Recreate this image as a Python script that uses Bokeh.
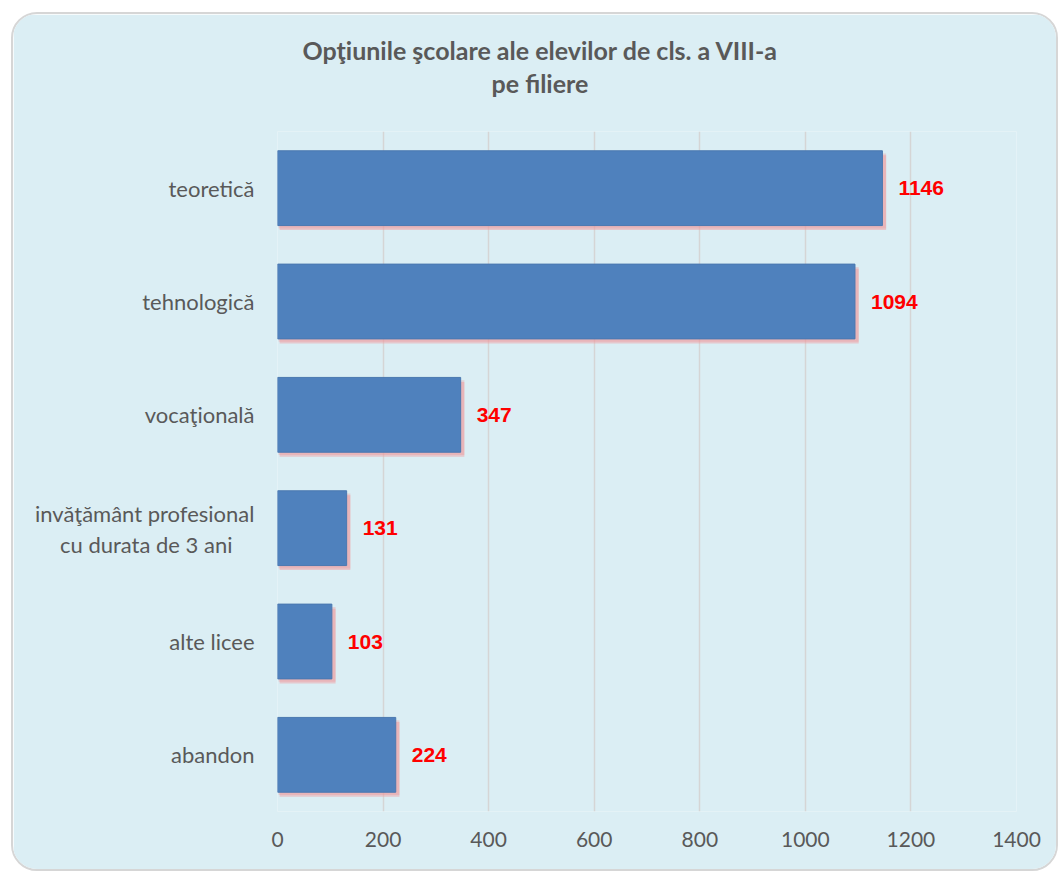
from bokeh.plotting import figure
from bokeh.models import Range1d, ColumnDataSource, FixedTicker, Title
from bokeh.core.properties import value
from bokeh.embed import file_html
from bokeh.resources import INLINE

categories = ["teoretică", "tehnologică", "vocaţională", "invăţământ profesional", "alte licee", "abandon"]
category_labels = ["teoretică", "tehnologică", "vocaţională", "invăţământ profesional\ncu durata de 3 ani", "alte licee", "abandon"]
values = [1146, 1094, 347, 131, 103, 224]
x_ticks = [0, 200, 400, 600, 800, 1000, 1200, 1400]
title_lines = ["Opţiunile şcolare ale elevilor de cls. a VIII-a", "pe filiere"]

BG = "#dbeef4"
GRAY = "#595959"
AXIS_FONT = "Lato"

n = len(categories)
# slot of each category on a numeric axis, first category at the top
slots = [n - i - 0.5 for i in range(n)]

p = figure(
    width=1047, height=859,
    y_range=Range1d(0, n), x_range=Range1d(0, 1400),
    output_backend="svg", toolbar_location=None,
    min_border_left=264, min_border_right=44, min_border_top=117, min_border_bottom=62,
)
p.title.visible = False
p.styles = {"border": "2px solid #d6d6d6", "border-radius": "26px", "overflow": "hidden",
            "margin-left": "3px", "margin-top": "5px", "transform": "translate(8px, 7px)"}
p.background_fill_color = BG
p.border_fill_color = BG
p.outline_line_color = None

src = ColumnDataSource(dict(
    slot=slots,
    shadow_slot=[s - 0.04 for s in slots],
    shadow_slot2=[s - 0.025 for s in slots],
    val=values,
    shadow_right=[v + 7 for v in values],
    lab=[str(v) for v in values],
))

# soft reddish shadow under each bar
p.hbar(y="shadow_slot", left=4, right="shadow_right", height=0.66,
       source=src, fill_color="#f2a0a4", fill_alpha=0.5, line_color=None)
p.hbar(y="shadow_slot2", left=2, right="shadow_right", height=0.66,
       source=src, fill_color="#ee8a90", fill_alpha=0.3, line_color=None)
# bars
p.hbar(y="slot", left=0, right="val", height=0.66, source=src,
       fill_color="#4f81bd", line_color="#4a78b0", line_width=1)

p.text(x="val", y="slot", text="lab", source=src, x_offset=16,
       text_baseline="middle", text_align="left", text_color="#ff0000",
       text_font=value("Liberation Sans"), text_font_style="bold", text_font_size="21px")

p.xgrid.grid_line_color = "#d5d5d5"
p.xgrid.grid_line_width = 1.5
p.ygrid.grid_line_color = None

p.xaxis.ticker = FixedTicker(ticks=x_ticks)
p.xaxis.axis_line_color = None
p.xaxis.major_tick_line_color = None
p.xaxis.minor_tick_line_color = None
p.xaxis.major_label_text_font = AXIS_FONT
p.xaxis.major_label_text_font_size = "21px"
p.xaxis.major_label_text_color = GRAY
p.xaxis.major_label_standoff = 14

# category labels as ticks, so a label may span two lines
ticks, overrides = [], {}
for centre, lab in zip(slots, category_labels):
    lines = lab.split("\n")
    if len(lines) == 1:
        ticks.append(centre)
        overrides[centre] = lab
    else:
        first, second = centre + 0.13, centre - 0.14
        ticks += [first, second]
        overrides[first] = lines[0]
        overrides[second] = lines[1] + "\u2002\u2002"
p.yaxis.ticker = FixedTicker(ticks=ticks)
p.yaxis.major_label_overrides = overrides
p.yaxis.axis_line_color = None
p.yaxis.major_tick_line_color = None
p.yaxis.minor_tick_line_color = None
p.yaxis.major_label_text_font = AXIS_FONT
p.yaxis.major_label_text_font_size = "22px"
p.yaxis.major_label_text_color = GRAY
p.yaxis.major_label_standoff = 17

# two-line title, stacked from the frame outward (blank spacer first)
p.add_layout(Title(text=" ", standoff=5, text_font="Lato", text_font_size="21px"), "above")
p.add_layout(Title(text=title_lines[1], align="left", offset=214, standoff=3,
                   text_font="Lato", text_font_style="bold", text_font_size="25px",
                   text_color=GRAY), "above")
p.add_layout(Title(text=title_lines[0], align="left", offset=25, standoff=0,
                   text_font="Lato", text_font_style="bold", text_font_size="25px",
                   text_color=GRAY), "above")

open("out.html", "w").write(file_html(p, INLINE))
